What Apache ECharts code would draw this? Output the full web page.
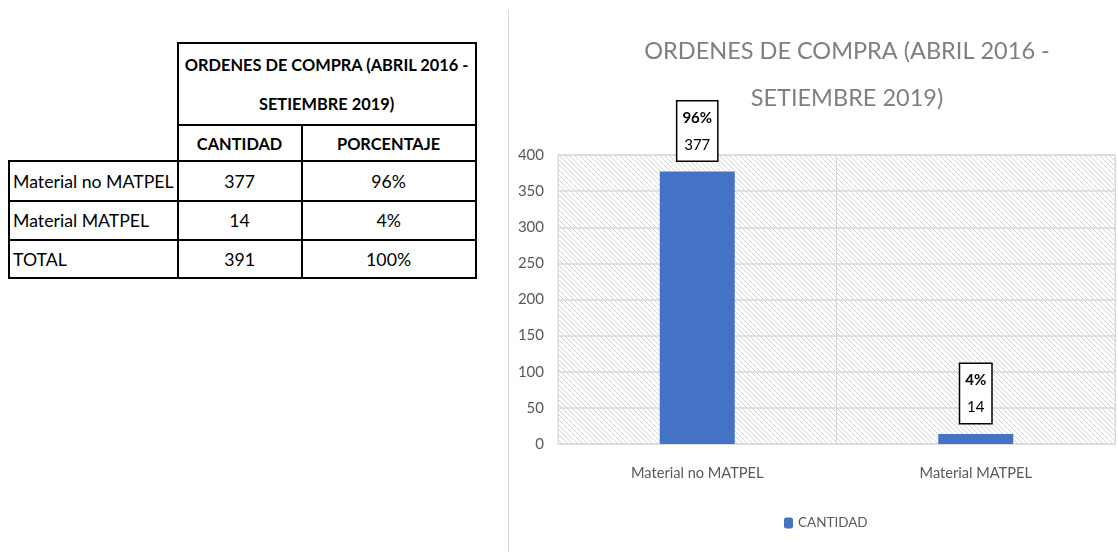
<!DOCTYPE html>
<html>
<head>
<meta charset="utf-8">
<script src="https://cdn.jsdelivr.net/npm/echarts@6/dist/echarts.min.js"></script>
<style>
  html, body { margin:0; padding:0; background:#fff; }
  #wrap { position:relative; width:1118px; height:552px; overflow:hidden; }
  #tbl { position:absolute; left:8px; top:42px; border-collapse:collapse; table-layout:fixed;
         font-family:Lato, sans-serif; font-size:17.7px; color:#000; white-space:nowrap; }
  #tbl td { border:2px solid #000; padding:0 3px; overflow:hidden; }
  #tbl td.blank { border:none; }
  #tbl .hd { font-weight:bold; text-align:center; font-size:16.4px; }
  #tbl .num { text-align:center; }
  #sep { position:absolute; left:508px; top:10px; width:1px; height:542px; background:#d9d9d9; }
  #myChart { position:absolute; left:509px; top:0; width:609px; height:552px; }
</style>
</head>
<body>
<div id="wrap">
  <table id="tbl"></table>
  <div id="sep"></div>
  <div id="myChart"></div>
</div>
<script type="text/javascript">
//数据
var categories = ['Material no MATPEL', 'Material MATPEL'];
var cantidad   = [377, 14];
var porcentaje = ['96%', '4%'];
var totalRow   = ['TOTAL', '391', '100%'];
var titleText  = 'ORDENES DE COMPRA (ABRIL 2016 -\nSETIEMBRE 2019)';
var yTicks     = [0, 50, 100, 150, 200, 250, 300, 350, 400];

//表格
var tbl = document.getElementById('tbl');
var html = '<colgroup><col style="width:166px"><col style="width:124px"><col style="width:174px"></colgroup>';
html += '<tr style="height:82px"><td class="blank"></td><td class="hd" colspan="2" style="line-height:39px">ORDENES DE COMPRA (ABRIL 2016 -<br>SETIEMBRE 2019)</td></tr>';
html += '<tr style="height:36px"><td class="blank"></td><td class="hd">CANTIDAD</td><td class="hd">PORCENTAJE</td></tr>';
var rowH = [40, 39];
for (var i = 0; i < categories.length; i++) {
  html += '<tr style="height:' + rowH[i] + 'px"><td>' + categories[i] + '</td><td class="num">' + cantidad[i] + '</td><td class="num">' + porcentaje[i] + '</td></tr>';
}
html += '<tr style="height:38px"><td>' + totalRow[0] + '</td><td class="num">' + totalRow[1] + '</td><td class="num">' + totalRow[2] + '</td></tr>';
tbl.innerHTML = html;

//斜线底纹
var pat = document.createElement('canvas');
pat.width = 5; pat.height = 5;
var ctx = pat.getContext('2d');
ctx.fillStyle = '#ffffff';
ctx.fillRect(0, 0, 5, 5);
ctx.strokeStyle = '#d4d4d4';
ctx.lineWidth = 1;
ctx.beginPath();
ctx.moveTo(-1, -1); ctx.lineTo(6, 6);
ctx.moveTo(-1, 4); ctx.lineTo(1, 6);
ctx.moveTo(4, -1); ctx.lineTo(6, 1);
ctx.stroke();

var font = 'Lato, sans-serif';
var option = {
  animation: false,
  title: {
    text: titleText,
    left: 333,
    top: 23,
    textAlign: 'center',
    textStyle: { fontFamily: font, fontSize: 23.5, fontWeight: 'normal', color: '#7f7f7f', lineHeight: 47 }
  },
  legend: {
    data: ['CANTIDAD'],
    bottom: 22,
    left: 275,
    padding: 0,
    itemWidth: 9, itemHeight: 11, itemGap: 4,
    textStyle: { fontFamily: font, fontSize: 13.5, color: '#595959' }
  },
  grid: {
    left: 49, right: 3, top: 155, bottom: 108,
    show: true,
    borderColor: '#d9d9d9',
    borderWidth: 1,
    backgroundColor: { image: pat, repeat: 'repeat' }
  },
  xAxis: {
    type: 'category',
    data: categories,
    axisLine: { show: false },
    axisTick: { show: false },
    splitLine: { show: true, lineStyle: { color: '#d9d9d9' } },
    axisLabel: { fontFamily: font, fontSize: 14.6, color: '#595959', margin: 22 }
  },
  yAxis: {
    type: 'value',
    min: 0, max: 400, interval: 50,
    axisLine: { show: false },
    axisTick: { show: false },
    splitLine: { lineStyle: { color: '#d9d9d9', width: 1.5 } },
    axisLabel: { fontFamily: font, fontSize: 15, color: '#595959', margin: 14 }
  },
  series: [{
    name: 'CANTIDAD',
    type: 'bar',
    data: cantidad,
    barWidth: 75,
    itemStyle: { color: '#4472C4' },
    label: {
      show: true,
      position: 'top',
      distance: 11,
      borderColor: '#000',
      borderWidth: 1.5,
      backgroundColor: '#fff',
      padding: [3, 5, 2, 5],
      formatter: function (p) { return '{p|' + porcentaje[p.dataIndex] + '}\n{v|' + p.value + '}'; },
      rich: {
        p: { fontFamily: font, fontSize: 15, fontWeight: 'bold', color: '#000', lineHeight: 27 },
        v: { fontFamily: font, fontSize: 15, color: '#000', lineHeight: 27 }
      }
    }
  }]
};
echarts.init(document.getElementById('myChart')).setOption(option);
</script>
</body>
</html>
